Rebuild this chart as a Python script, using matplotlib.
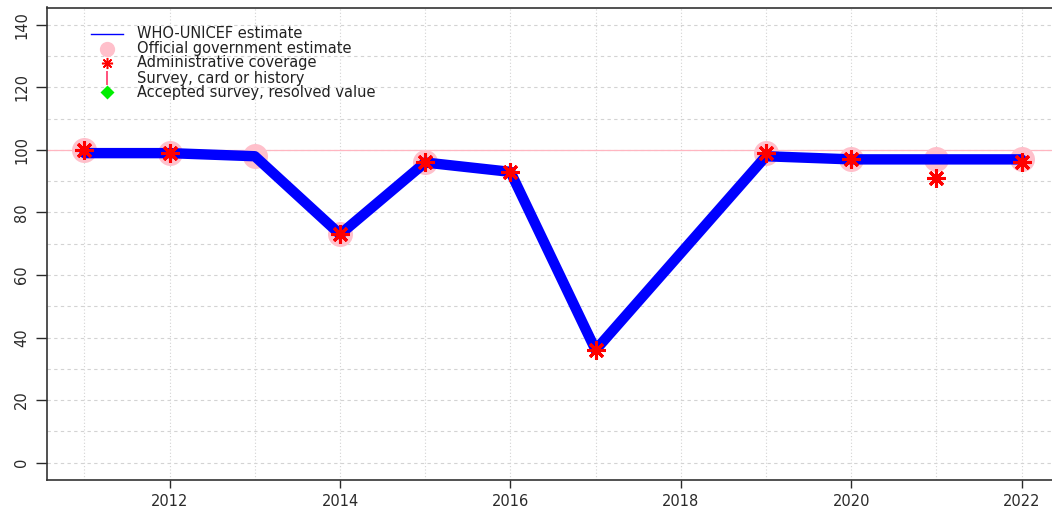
import numpy as np
import matplotlib
matplotlib.use("Agg")
import matplotlib.pyplot as plt
from matplotlib.lines import Line2D

years = [2011, 2012, 2013, 2014, 2015, 2016, 2017, 2018, 2019, 2020, 2021, 2022]
wuenic = [99, 99, 98, 73, 96, 93, 36, 67, 98, 97, 97, 97]
official = [100, 99, 98, 73, 96, np.nan, np.nan, np.nan, 99, 97, 97, 97]
admin = [100, 99, np.nan, 73, 96, 93, 36, np.nan, 99, 97, 91, 96]
xtick_years = [2012, 2014, 2016, 2018, 2020, 2022]
ytick_vals = [0, 20, 40, 60, 80, 100, 120, 140]
legend_labels = ["WHO-UNICEF estimate", "Official government estimate",
                 "Administrative coverage", "Survey, card or history",
                 "Accepted survey, resolved value"]

plt.rcParams['font.family'] = ['DejaVu Sans']

W, H = 1052, 512
fig = plt.figure(figsize=(W / 100, H / 100), dpi=100)
ax = fig.add_axes([47 / W, 1 - 480 / H, (1059 - 47) / W, (480 - 7.5) / H])

ax.set_xlim(2010.56, 2022.44)
ax.set_ylim(-5.6, 145.6)

# grid
for y in range(0, 150, 10):
    ax.axhline(y, color='#d3d3d3', lw=0.8, ls=(0, (3, 3)), zorder=0)
for x in years:
    ax.axvline(x, color='#d3d3d3', lw=0.8, ls=(0, (1, 2)), zorder=0)

ax.axhline(100, color='#ffb6c1', lw=0.9, zorder=1)

ax.plot(years, official, ls='none', marker='o', ms=18, color='#ffc0cb', mec='none', zorder=2)
ax.plot(years, wuenic, color='#0000ff', lw=7.5, solid_capstyle='round',
        solid_joinstyle='round', zorder=3)
ax.plot(years, admin, ls='none', marker=(8, 2, 0), ms=13, mew=2.2, color='#ff0000', zorder=4)

ax.set_xticks(xtick_years)
ax.set_xticklabels([str(y) for y in xtick_years])
ax.set_yticks(ytick_vals)
ax.set_yticklabels([str(v) for v in ytick_vals], rotation=90, va='center')
ax.tick_params(axis='both', colors='#2a2a2a', labelsize=10.5, width=1)
ax.tick_params(axis='x', pad=4, length=6)
ax.tick_params(axis='y', pad=5, length=8)

for s in ['left', 'bottom', 'top']:
    ax.spines[s].set_color('#333333')
    ax.spines[s].set_linewidth(1.2)
ax.spines['right'].set_visible(False)

# legend (manual, positioned in figure pixels)
rows_y = [34, 49, 63, 78, 92]
hx = 107
tx = 137
def fx(px):
    return px / W
def fy(py):
    return 1 - py / H

fig.add_artist(Line2D([fx(91), fx(123)], [fy(rows_y[0])] * 2, color='#0000ff', lw=1))
fig.add_artist(Line2D([fx(hx)], [fy(rows_y[1])], ls='none', marker='o', ms=11,
                      color='#ffc0cb', mec='none'))
fig.add_artist(Line2D([fx(hx)], [fy(rows_y[2])], ls='none', marker=(8, 2, 0), ms=8,
                      mew=1.1, color='#ff0000'))
fig.add_artist(Line2D([fx(hx)], [fy(rows_y[3])], ls='none', marker='|', ms=10,
                      mew=1.2, color='#ff3366'))
fig.add_artist(Line2D([fx(hx)], [fy(rows_y[4])], ls='none', marker='D', ms=7,
                      color='#00ee00', mec='none'))
for lab, ry in zip(legend_labels, rows_y):
    fig.text(fx(tx), fy(ry), lab, fontsize=10.5, color='#222222', va='center', ha='left')

fig.savefig('out.png', dpi=100)
